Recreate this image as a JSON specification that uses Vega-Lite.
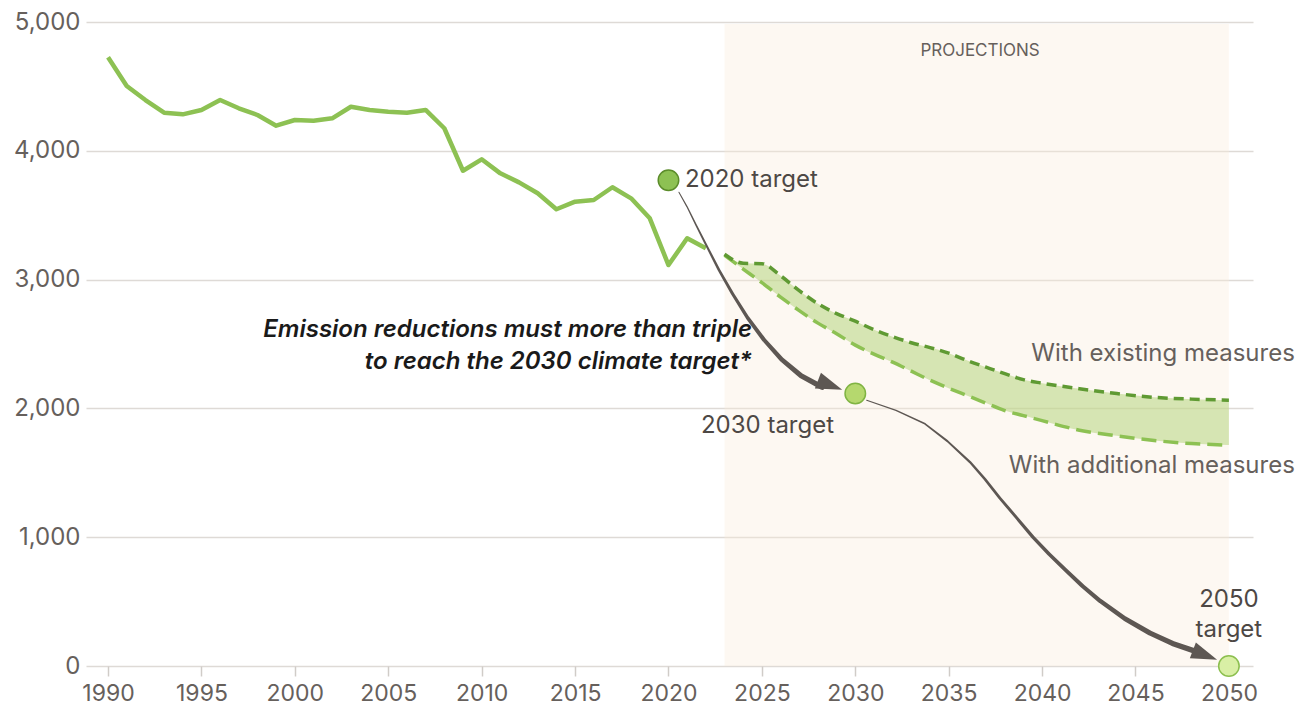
{
  "$schema": "https://vega.github.io/schema/vega-lite/v6.json",
  "width": 1167,
  "height": 644,
  "autosize": {"type": "none"},
  "padding": {"left": 86, "top": 22, "right": 49, "bottom": 44},
  "background": "white",
  "config": {
    "view": {"stroke": null},
    "font": "Inter",
    "text": {"font": "Inter"}
  },
  "datasets": {
    "shade": [{"start": 2023, "end": 2050, "bottom": 0, "top": 4985}],
    "hist": [
      {"year": 1990, "value": 4726}, {"year": 1991, "value": 4503}, {"year": 1992, "value": 4394},
      {"year": 1993, "value": 4296}, {"year": 1994, "value": 4283}, {"year": 1995, "value": 4317},
      {"year": 1996, "value": 4394}, {"year": 1997, "value": 4330}, {"year": 1998, "value": 4278},
      {"year": 1999, "value": 4195}, {"year": 2000, "value": 4239}, {"year": 2001, "value": 4234},
      {"year": 2002, "value": 4252}, {"year": 2003, "value": 4342}, {"year": 2004, "value": 4317},
      {"year": 2005, "value": 4304}, {"year": 2006, "value": 4296}, {"year": 2007, "value": 4317},
      {"year": 2008, "value": 4175}, {"year": 2009, "value": 3845}, {"year": 2010, "value": 3934},
      {"year": 2011, "value": 3825}, {"year": 2012, "value": 3755}, {"year": 2013, "value": 3670},
      {"year": 2014, "value": 3546}, {"year": 2015, "value": 3605}, {"year": 2016, "value": 3618},
      {"year": 2017, "value": 3717}, {"year": 2018, "value": 3631}, {"year": 2019, "value": 3476},
      {"year": 2020, "value": 3113}, {"year": 2021, "value": 3321}, {"year": 2022, "value": 3243}
    ],
    "proj": [
      {"year": 2023, "existing": 3197, "additional": 3189},
      {"year": 2024, "existing": 3127, "additional": 3082},
      {"year": 2025, "existing": 3124, "additional": 2976},
      {"year": 2026, "existing": 3030, "additional": 2864},
      {"year": 2027, "existing": 2914, "additional": 2759},
      {"year": 2028, "existing": 2813, "additional": 2662},
      {"year": 2029, "existing": 2736, "additional": 2580},
      {"year": 2030, "existing": 2677, "additional": 2491},
      {"year": 2031, "existing": 2611, "additional": 2421},
      {"year": 2032, "existing": 2557, "additional": 2359},
      {"year": 2033, "existing": 2510, "additional": 2289},
      {"year": 2034, "existing": 2472, "additional": 2219},
      {"year": 2035, "existing": 2429, "additional": 2157},
      {"year": 2036, "existing": 2371, "additional": 2099},
      {"year": 2037, "existing": 2320, "additional": 2041},
      {"year": 2038, "existing": 2270, "additional": 1983},
      {"year": 2039, "existing": 2223, "additional": 1944},
      {"year": 2040, "existing": 2196, "additional": 1905},
      {"year": 2042, "existing": 2153, "additional": 1831},
      {"year": 2044, "existing": 2115, "additional": 1787},
      {"year": 2046, "existing": 2086, "additional": 1751},
      {"year": 2048, "existing": 2072, "additional": 1727},
      {"year": 2050, "existing": 2064, "additional": 1715}
    ],
    "arrows": [
      {"arrow": "a", "t": 0.0, "year": 2020.56, "value": 3678},
      {"arrow": "a", "t": 0.067, "year": 2020.99, "value": 3567},
      {"arrow": "a", "t": 0.151, "year": 2021.48, "value": 3423},
      {"arrow": "a", "t": 0.248, "year": 2022.06, "value": 3257},
      {"arrow": "a", "t": 0.355, "year": 2022.7, "value": 3076},
      {"arrow": "a", "t": 0.466, "year": 2023.43, "value": 2890},
      {"arrow": "a", "t": 0.581, "year": 2024.23, "value": 2705},
      {"arrow": "a", "t": 0.693, "year": 2025.11, "value": 2533},
      {"arrow": "a", "t": 0.801, "year": 2026.06, "value": 2379},
      {"arrow": "a", "t": 0.904, "year": 2027.1, "value": 2254},
      {"arrow": "a", "t": 1.0, "year": 2028.22, "value": 2165},
      {"arrow": "b", "t": 0.0, "year": 2030.61, "value": 2064},
      {"arrow": "b", "t": 0.074, "year": 2032.18, "value": 1985},
      {"arrow": "b", "t": 0.15, "year": 2033.73, "value": 1880},
      {"arrow": "b", "t": 0.218, "year": 2034.93, "value": 1746},
      {"arrow": "b", "t": 0.29, "year": 2036.14, "value": 1583},
      {"arrow": "b", "t": 0.344, "year": 2036.94, "value": 1451},
      {"arrow": "b", "t": 0.402, "year": 2037.74, "value": 1304},
      {"arrow": "b", "t": 0.462, "year": 2038.63, "value": 1152},
      {"arrow": "b", "t": 0.523, "year": 2039.51, "value": 1001},
      {"arrow": "b", "t": 0.578, "year": 2040.37, "value": 869},
      {"arrow": "b", "t": 0.63, "year": 2041.22, "value": 750},
      {"arrow": "b", "t": 0.688, "year": 2042.16, "value": 621},
      {"arrow": "b", "t": 0.743, "year": 2043.1, "value": 506},
      {"arrow": "b", "t": 0.816, "year": 2044.43, "value": 368},
      {"arrow": "b", "t": 0.885, "year": 2045.77, "value": 256},
      {"arrow": "b", "t": 0.944, "year": 2046.98, "value": 175},
      {"arrow": "b", "t": 1.0, "year": 2048.18, "value": 116}
    ],
    "heads": [
      {"year": 2028.65, "value": 2180},
      {"year": 2048.72, "value": 85}
    ],
    "targets": [
      {"year": 2020, "value": 3772, "target": "2020"},
      {"year": 2030, "value": 2115, "target": "2030"},
      {"year": 2050, "value": 0, "target": "2050"}
    ],
    "lab_left": [{"year": 2020.88, "value": 3772, "label": "2020 target"}],
    "lab_center": [
      {"year": 2025.3, "value": 1862, "label": "2030 target"},
      {"year": 2050, "value": 512, "label": "2050"},
      {"year": 2050, "value": 279, "label": "target"}
    ],
    "lab_right": [
      {"year": 2053.53, "value": 2421, "label": "With existing measures"},
      {"year": 2053.53, "value": 1552, "label": "With additional measures"}
    ],
    "lab_note": [
      {"year": 2024.47, "value": 2607, "label": "Emission reductions must more than triple"},
      {"year": 2024.47, "value": 2359, "label": "to reach the 2030 climate target*"}
    ],
    "lab_proj": [{"year": 2036.68, "value": 4773, "label": "PROJECTIONS"}]
  },
  "layer": [
    {
      "data": {"name": "shade"},
      "mark": {"type": "rect", "color": "#f9ebda", "opacity": 0.35},
      "encoding": {
        "x": {
          "field": "start", "type": "quantitative", "title": null,
          "scale": {"domain": [1988.82, 2051.29], "nice": false, "zero": false},
          "axis": {
            "values": [1990, 1995, 2000, 2005, 2010, 2015, 2020, 2025, 2030, 2035, 2040, 2045, 2050],
            "format": "d", "grid": false, "domain": false, "ticks": true,
            "tickColor": "#d0ccc8", "tickSize": 10, "tickWidth": 1.5,
            "labelPadding": 6, "labelFontSize": 23, "labelColor": "#66605c",
            "labelFont": "Inter", "labelFlush": false, "labelOverlap": false
          }
        },
        "x2": {"field": "end"},
        "y": {
          "field": "bottom", "type": "quantitative", "title": null,
          "scale": {"domain": [0, 5000], "nice": false},
          "axis": {
            "values": [0, 1000, 2000, 3000, 4000, 5000], "format": ",.0f",
            "grid": true, "gridColor": "#dedad6", "gridWidth": 1.5,
            "ticks": false, "domain": false, "labelPadding": 6,
            "labelFontSize": 24, "labelColor": "#66605c", "labelFont": "Inter"
          }
        },
        "y2": {"field": "top"}
      }
    },
    {
      "data": {"name": "proj"},
      "mark": {"type": "area", "color": "#afd274", "opacity": 0.5, "interpolate": "monotone"},
      "encoding": {
        "x": {"field": "year", "type": "quantitative", "title": null},
        "y": {"field": "existing", "type": "quantitative", "title": null},
        "y2": {"field": "additional"}
      }
    },
    {
      "data": {"name": "hist"},
      "mark": {"type": "line", "color": "#8dc153", "strokeWidth": 4.5, "strokeJoin": "round"},
      "encoding": {
        "x": {"field": "year", "type": "quantitative", "title": null},
        "y": {"field": "value", "type": "quantitative", "title": null}
      }
    },
    {
      "data": {"name": "proj"},
      "mark": {"type": "line", "color": "#8dc153", "strokeWidth": 3.5, "strokeDash": [15, 7], "interpolate": "monotone"},
      "encoding": {
        "x": {"field": "year", "type": "quantitative", "title": null},
        "y": {"field": "additional", "type": "quantitative", "title": null}
      }
    },
    {
      "data": {"name": "proj"},
      "mark": {"type": "line", "color": "#5f9a33", "strokeWidth": 3.5, "strokeDash": [10, 6], "interpolate": "monotone"},
      "encoding": {
        "x": {"field": "year", "type": "quantitative", "title": null},
        "y": {"field": "existing", "type": "quantitative", "title": null}
      }
    },
    {
      "data": {"name": "arrows"},
      "mark": {"type": "trail", "color": "#5d5753"},
      "encoding": {
        "x": {"field": "year", "type": "quantitative", "title": null},
        "y": {"field": "value", "type": "quantitative", "title": null},
        "size": {"field": "t", "type": "quantitative", "scale": {"domain": [0, 1], "range": [1, 5.5]}, "legend": null},
        "detail": {"field": "arrow"},
        "order": {"field": "t"}
      }
    },
    {
      "data": {"name": "heads"},
      "mark": {"type": "point", "filled": true, "color": "#5d5753", "opacity": 1, "shape": "M-1,-0.65L1,0L-1,0.65Z", "size": 676, "angle": 21},
      "encoding": {
        "x": {"field": "year", "type": "quantitative", "title": null},
        "y": {"field": "value", "type": "quantitative", "title": null}
      }
    },
    {
      "data": {"name": "targets"},
      "mark": {"type": "point", "filled": true, "opacity": 1, "size": 420, "strokeWidth": 1.5},
      "encoding": {
        "x": {"field": "year", "type": "quantitative", "title": null},
        "y": {"field": "value", "type": "quantitative", "title": null},
        "fill": {"field": "target", "type": "nominal", "scale": {"domain": ["2020", "2030", "2050"], "range": ["#8dc153", "#b5d86e", "#d9efa5"]}, "legend": null},
        "stroke": {"field": "target", "type": "nominal", "scale": {"domain": ["2020", "2030", "2050"], "range": ["#5b8c2a", "#80b443", "#8cbf4f"]}, "legend": null}
      }
    },
    {
      "data": {"name": "lab_left"},
      "mark": {"type": "text", "align": "left", "baseline": "middle", "fontSize": 24, "color": "#4d4845"},
      "encoding": {
        "x": {"field": "year", "type": "quantitative", "title": null},
        "y": {"field": "value", "type": "quantitative", "title": null},
        "text": {"field": "label"}
      }
    },
    {
      "data": {"name": "lab_center"},
      "mark": {"type": "text", "align": "center", "baseline": "middle", "fontSize": 24, "color": "#4d4845"},
      "encoding": {
        "x": {"field": "year", "type": "quantitative", "title": null},
        "y": {"field": "value", "type": "quantitative", "title": null},
        "text": {"field": "label"}
      }
    },
    {
      "data": {"name": "lab_right"},
      "mark": {"type": "text", "align": "right", "baseline": "middle", "fontSize": 24, "color": "#66605c"},
      "encoding": {
        "x": {"field": "year", "type": "quantitative", "title": null},
        "y": {"field": "value", "type": "quantitative", "title": null},
        "text": {"field": "label"}
      }
    },
    {
      "data": {"name": "lab_note"},
      "mark": {"type": "text", "align": "right", "baseline": "middle", "fontSize": 24, "fontStyle": "italic", "fontWeight": 600, "color": "#1a1a1a"},
      "encoding": {
        "x": {"field": "year", "type": "quantitative", "title": null},
        "y": {"field": "value", "type": "quantitative", "title": null},
        "text": {"field": "label"}
      }
    },
    {
      "data": {"name": "lab_proj"},
      "mark": {"type": "text", "align": "center", "baseline": "middle", "fontSize": 17, "color": "#66605c"},
      "encoding": {
        "x": {"field": "year", "type": "quantitative", "title": null},
        "y": {"field": "value", "type": "quantitative", "title": null},
        "text": {"field": "label"}
      }
    }
  ]
}
